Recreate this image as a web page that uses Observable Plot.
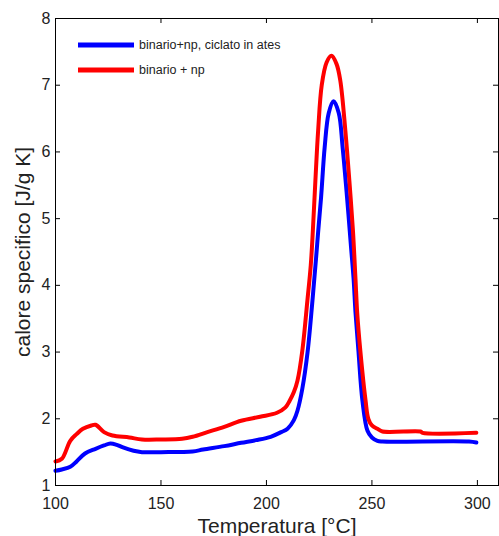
<!DOCTYPE html>
<html>
<head>
<meta charset="utf-8">
<script src="https://cdn.jsdelivr.net/npm/d3@7"></script>
<script src="https://cdn.jsdelivr.net/npm/@observablehq/plot@0.6"></script>
<style>
  html, body { margin: 0; padding: 0; background: #fff; }
  #chart { width: 499px; height: 536px; }
</style>
</head>
<body>
<div id="chart"></div>
<script>
const seriesNames = ["binario+np, ciclato in ates", "binario + np"];
const seriesColors = ["#0000ff", "#ff0000"];

const blueT = [100, 103, 107, 110, 114, 119, 123, 126, 129, 132, 137, 141, 150, 165, 170, 180, 188, 195, 202, 207, 210, 213, 214.7, 217, 219.5, 221.8, 223.5, 224.5, 225.9, 227.6, 229.5, 231.8, 234.3, 236.1, 238.2, 240.1, 241.3, 242.2, 243.6, 245.5, 247.9, 250, 252.6, 255, 296, 299.5];
const blueCp = [1.22, 1.24, 1.28, 1.36, 1.48, 1.55, 1.60, 1.63, 1.61, 1.57, 1.52, 1.50, 1.50, 1.51, 1.54, 1.59, 1.64, 1.68, 1.73, 1.80, 1.85, 1.98, 2.12, 2.45, 3.00, 3.77, 4.40, 4.80, 5.32, 6.07, 6.58, 6.76, 6.58, 6.07, 5.32, 4.57, 4.10, 3.60, 3.02, 2.27, 1.82, 1.72, 1.67, 1.66, 1.66, 1.645];

const redT = [100, 103, 107, 110, 113, 117, 119, 123, 127, 135, 141, 150, 160, 165, 172, 180, 188, 197, 205, 209, 211, 213, 214.7, 217, 219.4, 221, 222, 223.2, 224.5, 226.2, 228.5, 230.8, 233.2, 235, 237.4, 239.3, 241, 242.2, 243, 244.5, 247, 248.3, 250, 252.6, 255, 273, 274, 299.5];
const redCp = [1.36, 1.40, 1.67, 1.77, 1.85, 1.90, 1.91, 1.80, 1.75, 1.72, 1.69, 1.69, 1.70, 1.73, 1.80, 1.88, 1.97, 2.03, 2.09, 2.17, 2.27, 2.40, 2.57, 3.02, 3.77, 4.30, 4.82, 5.57, 6.32, 7.00, 7.34, 7.44, 7.32, 7.07, 6.32, 5.57, 4.82, 4.10, 3.60, 3.02, 2.27, 2.00, 1.90, 1.85, 1.81, 1.81, 1.79, 1.79];

const xTicks = [100, 150, 200, 250, 300];
const yTicks = [1, 2, 3, 4, 5, 6, 7, 8];
const xLabel = "Temperatura [°C]";
const yLabel = "calore specifico [J/g K]";

const blue = blueT.map((t, i) => ({t, cp: blueCp[i], s: seriesNames[0]}));
const red = redT.map((t, i) => ({t, cp: redCp[i], s: seriesNames[1]}));

const W = 499, H = 536;
const mL = 55, mR = 1, mT = 18, mB = 51;
const innerH = H - mT - mB;
const innerW = W - mL - mR;
const tick = 5;
const textColor = "#222";
const font = "'Liberation Sans', Arial, Helvetica, sans-serif";

const plot = Plot.plot({
  width: W,
  height: H,
  marginLeft: mL,
  marginRight: mR,
  marginTop: mT,
  marginBottom: mB,
  style: {fontFamily: font, background: "#fff", color: textColor},
  x: {domain: [100, 310]},
  y: {domain: [1, 8]},
  marks: [
    Plot.line(blue, {x: "t", y: "cp", stroke: seriesColors[0], strokeWidth: 4, curve: "catmull-rom", strokeLinejoin: "round"}),
    Plot.line(red, {x: "t", y: "cp", stroke: seriesColors[1], strokeWidth: 4, curve: "catmull-rom", strokeLinejoin: "round"}),
    Plot.tickX(xTicks, {x: d => d, stroke: "#000", strokeWidth: 1, insetTop: innerH - tick}),
    Plot.tickX(xTicks, {x: d => d, stroke: "#000", strokeWidth: 1, insetBottom: innerH - tick}),
    Plot.tickY(yTicks, {y: d => d, stroke: "#000", strokeWidth: 1, insetRight: innerW - tick}),
    Plot.tickY(yTicks, {y: d => d, stroke: "#000", strokeWidth: 1, insetLeft: innerW - tick}),
    Plot.frame({stroke: "#000", strokeWidth: 1}),
    Plot.axisX({ticks: xTicks, tickSize: 0, tickPadding: 12, fontSize: 16, label: null, fill: textColor, tickFormat: d3.format("d")}),
    Plot.axisY({ticks: yTicks, tickSize: 0, tickPadding: 5, fontSize: 16, label: null, fill: textColor, tickFormat: d3.format("d")}),
    Plot.text([xLabel], {frameAnchor: "bottom", dy: 47, fontSize: 21, fill: textColor}),
    Plot.text([yLabel], {frameAnchor: "left", rotate: -90, textAnchor: "middle", dx: -32, fontSize: 21, fill: textColor})
  ]
});

// Legend inside the plot, top-left (MATLAB style)
const svg = d3.select(plot);
const leg = svg.append("g").attr("font-family", font).attr("font-size", 12.5).attr("text-anchor", "start");
seriesNames.forEach((name, i) => {
  const y = 45 + i * 25;
  leg.append("line").attr("x1", 78).attr("x2", 134).attr("y1", y).attr("y2", y)
    .attr("stroke", seriesColors[i]).attr("stroke-width", 5);
  leg.append("text").attr("x", 139).attr("y", y).attr("dy", "0.35em").attr("fill", textColor).text(name);
});

document.getElementById("chart").appendChild(plot);
</script>
</body>
</html>
